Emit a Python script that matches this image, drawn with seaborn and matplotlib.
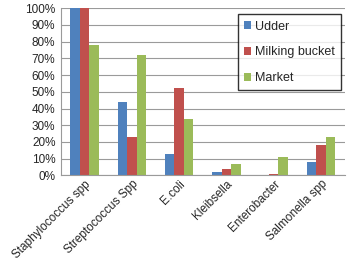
import seaborn as sns
import pandas as pd
import matplotlib.pyplot as plt
from matplotlib.ticker import PercentFormatter

# data (percent)
organisms = ['Staphylococcus spp', 'Streptococcus Spp', 'E.coli', 'Kleibsella',
             'Enterobacter', 'Salmonella spp']
udder = [100, 44, 13, 2, 0.5, 8]
bucket = [100, 23, 52, 4, 0.8, 18]
market = [78, 72, 34, 7, 11, 23]
sources = ['Udder', 'Milking bucket', 'Market']

df = pd.DataFrame({'organism': organisms * 3,
                   'source': [s for s in sources for _ in organisms],
                   'value': udder + bucket + market})

sns.set_style('white')
plt.rcParams['font.family'] = ['Liberation Sans', 'DejaVu Sans']

fig, ax = plt.subplots(figsize=(3.59, 2.74), dpi=100)
sns.barplot(data=df, x='organism', y='value', hue='source', ax=ax,
            palette=['#4F81BD', '#C0504D', '#9BBB59'], width=0.6,
            edgecolor='none', saturation=1)

ax.set_ylim(0, 100)
ax.set_yticks(range(0, 101, 10))
ax.yaxis.set_major_formatter(PercentFormatter(decimals=0))
ax.grid(axis='y', color='#9a9a9a', linewidth=0.8)
ax.set_axisbelow(True)
ax.set_xlabel('')
ax.set_ylabel('')
ax.tick_params(axis='y', labelsize=8.5, length=0, pad=4)
ax.tick_params(axis='x', labelsize=8.5, length=0, pad=2)
plt.setp(ax.get_xticklabels(), rotation=45, ha='right', rotation_mode='anchor')
for s in ['top', 'right']:
    ax.spines[s].set_visible(False)
for s in ['left', 'bottom']:
    ax.spines[s].set_color('#9a9a9a')

leg = ax.legend(loc='upper right', fontsize=9, frameon=True, fancybox=False,
                handlelength=0.6, handleheight=0.6, borderpad=0.5,
                labelspacing=1.1, handletextpad=0.3,
                bbox_to_anchor=(1.01, 1.0))
leg.get_frame().set_edgecolor('black')
leg.get_frame().set_linewidth(1)

plt.subplots_adjust(left=0.17, right=0.96, top=0.97, bottom=0.36)
plt.savefig('out.png', dpi=100)
